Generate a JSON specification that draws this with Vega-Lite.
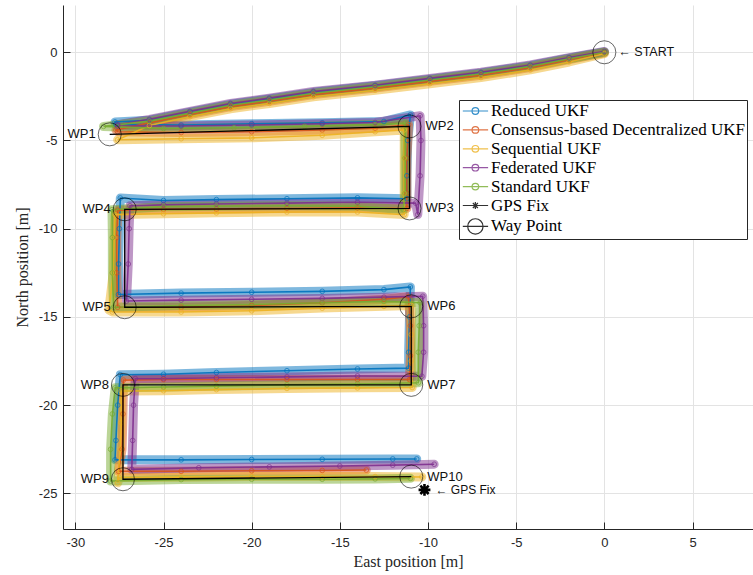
{
  "$schema": "https://vega.github.io/schema/vega-lite/v6.json",
  "width": 690,
  "height": 524,
  "autosize": {"type": "none"},
  "padding": {"left": 63, "top": 5, "right": 0, "bottom": 46},
  "background": "white",
  "config": {
    "view": {"stroke": null},
    "font": "Liberation Sans"
  },
  "datasets": {
    "tracks": [
      {"f": "Reduced UKF", "i": 0, "x": 0, "y": 0.02},
      {"f": "Reduced UKF", "i": 1, "x": -2, "y": -0.33},
      {"f": "Reduced UKF", "i": 2, "x": -4.2, "y": -0.76},
      {"f": "Reduced UKF", "i": 3, "x": -7, "y": -1.17},
      {"f": "Reduced UKF", "i": 4, "x": -9.9, "y": -1.52},
      {"f": "Reduced UKF", "i": 5, "x": -13, "y": -1.9},
      {"f": "Reduced UKF", "i": 6, "x": -16.5, "y": -2.27},
      {"f": "Reduced UKF", "i": 7, "x": -19, "y": -2.65},
      {"f": "Reduced UKF", "i": 8, "x": -21.2, "y": -2.95},
      {"f": "Reduced UKF", "i": 9, "x": -23.5, "y": -3.4},
      {"f": "Reduced UKF", "i": 10, "x": -25.8, "y": -3.85},
      {"f": "Reduced UKF", "i": 11, "x": -27.75, "y": -3.95},
      {"f": "Reduced UKF", "i": 12, "x": -27.7, "y": -4.08},
      {"f": "Reduced UKF", "i": 13, "x": -24, "y": -4.12},
      {"f": "Reduced UKF", "i": 14, "x": -20, "y": -4.05},
      {"f": "Reduced UKF", "i": 15, "x": -16, "y": -4.0},
      {"f": "Reduced UKF", "i": 16, "x": -12.5, "y": -3.92},
      {"f": "Reduced UKF", "i": 17, "x": -11.0, "y": -3.55},
      {"f": "Reduced UKF", "i": 18, "x": -11.15, "y": -5},
      {"f": "Reduced UKF", "i": 19, "x": -11.2, "y": -7},
      {"f": "Reduced UKF", "i": 20, "x": -11.2, "y": -8.3},
      {"f": "Reduced UKF", "i": 21, "x": -14, "y": -8.25},
      {"f": "Reduced UKF", "i": 22, "x": -18, "y": -8.3},
      {"f": "Reduced UKF", "i": 23, "x": -22, "y": -8.35},
      {"f": "Reduced UKF", "i": 24, "x": -25, "y": -8.4},
      {"f": "Reduced UKF", "i": 25, "x": -27.45, "y": -8.26},
      {"f": "Reduced UKF", "i": 26, "x": -27.5, "y": -10},
      {"f": "Reduced UKF", "i": 27, "x": -27.55, "y": -12},
      {"f": "Reduced UKF", "i": 28, "x": -27.55, "y": -13.73},
      {"f": "Reduced UKF", "i": 29, "x": -24, "y": -13.65},
      {"f": "Reduced UKF", "i": 30, "x": -20, "y": -13.6},
      {"f": "Reduced UKF", "i": 31, "x": -16, "y": -13.55},
      {"f": "Reduced UKF", "i": 32, "x": -12.5, "y": -13.45},
      {"f": "Reduced UKF", "i": 33, "x": -11.0, "y": -13.3},
      {"f": "Reduced UKF", "i": 34, "x": -11.05, "y": -15},
      {"f": "Reduced UKF", "i": 35, "x": -11.1, "y": -17},
      {"f": "Reduced UKF", "i": 36, "x": -11.1, "y": -17.9},
      {"f": "Reduced UKF", "i": 37, "x": -14, "y": -17.95},
      {"f": "Reduced UKF", "i": 38, "x": -18, "y": -18.05},
      {"f": "Reduced UKF", "i": 39, "x": -22, "y": -18.15},
      {"f": "Reduced UKF", "i": 40, "x": -25, "y": -18.25},
      {"f": "Reduced UKF", "i": 41, "x": -27.45, "y": -18.28},
      {"f": "Reduced UKF", "i": 42, "x": -27.6, "y": -20},
      {"f": "Reduced UKF", "i": 43, "x": -27.7, "y": -22},
      {"f": "Reduced UKF", "i": 44, "x": -27.75, "y": -23.1},
      {"f": "Reduced UKF", "i": 45, "x": -24, "y": -23.1},
      {"f": "Reduced UKF", "i": 46, "x": -20, "y": -23.08},
      {"f": "Reduced UKF", "i": 47, "x": -16, "y": -23.07},
      {"f": "Reduced UKF", "i": 48, "x": -12, "y": -23.05},
      {"f": "Reduced UKF", "i": 49, "x": -10.64, "y": -23.05},

      {"f": "Consensus-based Decentralized UKF", "i": 0, "x": 0, "y": -0.03},
      {"f": "Consensus-based Decentralized UKF", "i": 1, "x": -2, "y": -0.42},
      {"f": "Consensus-based Decentralized UKF", "i": 2, "x": -4.2, "y": -0.87},
      {"f": "Consensus-based Decentralized UKF", "i": 3, "x": -7, "y": -1.3},
      {"f": "Consensus-based Decentralized UKF", "i": 4, "x": -9.9, "y": -1.65},
      {"f": "Consensus-based Decentralized UKF", "i": 5, "x": -13, "y": -2.03},
      {"f": "Consensus-based Decentralized UKF", "i": 6, "x": -16.5, "y": -2.4},
      {"f": "Consensus-based Decentralized UKF", "i": 7, "x": -19, "y": -2.78},
      {"f": "Consensus-based Decentralized UKF", "i": 8, "x": -21.2, "y": -3.08},
      {"f": "Consensus-based Decentralized UKF", "i": 9, "x": -23.5, "y": -3.53},
      {"f": "Consensus-based Decentralized UKF", "i": 10, "x": -25.8, "y": -4.0},
      {"f": "Consensus-based Decentralized UKF", "i": 11, "x": -27.7, "y": -4.4},
      {"f": "Consensus-based Decentralized UKF", "i": 12, "x": -27.6, "y": -4.5},
      {"f": "Consensus-based Decentralized UKF", "i": 13, "x": -24, "y": -4.55},
      {"f": "Consensus-based Decentralized UKF", "i": 14, "x": -20, "y": -4.5},
      {"f": "Consensus-based Decentralized UKF", "i": 15, "x": -16, "y": -4.4},
      {"f": "Consensus-based Decentralized UKF", "i": 16, "x": -13, "y": -4.3},
      {"f": "Consensus-based Decentralized UKF", "i": 17, "x": -11.1, "y": -4.1},
      {"f": "Consensus-based Decentralized UKF", "i": 18, "x": -11.2, "y": -6},
      {"f": "Consensus-based Decentralized UKF", "i": 19, "x": -11.2, "y": -8},
      {"f": "Consensus-based Decentralized UKF", "i": 20, "x": -11.2, "y": -8.85},
      {"f": "Consensus-based Decentralized UKF", "i": 21, "x": -14, "y": -8.82},
      {"f": "Consensus-based Decentralized UKF", "i": 22, "x": -18, "y": -8.85},
      {"f": "Consensus-based Decentralized UKF", "i": 23, "x": -22, "y": -8.88},
      {"f": "Consensus-based Decentralized UKF", "i": 24, "x": -25, "y": -8.9},
      {"f": "Consensus-based Decentralized UKF", "i": 25, "x": -27.6, "y": -8.95},
      {"f": "Consensus-based Decentralized UKF", "i": 26, "x": -27.65, "y": -10.5},
      {"f": "Consensus-based Decentralized UKF", "i": 27, "x": -27.65, "y": -12.5},
      {"f": "Consensus-based Decentralized UKF", "i": 28, "x": -27.6, "y": -14.45},
      {"f": "Consensus-based Decentralized UKF", "i": 29, "x": -24, "y": -14.45},
      {"f": "Consensus-based Decentralized UKF", "i": 30, "x": -20, "y": -14.35},
      {"f": "Consensus-based Decentralized UKF", "i": 31, "x": -16, "y": -14.2},
      {"f": "Consensus-based Decentralized UKF", "i": 32, "x": -12.5, "y": -14.0},
      {"f": "Consensus-based Decentralized UKF", "i": 33, "x": -11.1, "y": -13.85},
      {"f": "Consensus-based Decentralized UKF", "i": 34, "x": -11.0, "y": -15.5},
      {"f": "Consensus-based Decentralized UKF", "i": 35, "x": -11.0, "y": -17.2},
      {"f": "Consensus-based Decentralized UKF", "i": 36, "x": -11.05, "y": -18.55},
      {"f": "Consensus-based Decentralized UKF", "i": 37, "x": -14, "y": -18.55},
      {"f": "Consensus-based Decentralized UKF", "i": 38, "x": -18, "y": -18.55},
      {"f": "Consensus-based Decentralized UKF", "i": 39, "x": -22, "y": -18.55},
      {"f": "Consensus-based Decentralized UKF", "i": 40, "x": -25, "y": -18.55},
      {"f": "Consensus-based Decentralized UKF", "i": 41, "x": -27.27, "y": -18.58},
      {"f": "Consensus-based Decentralized UKF", "i": 42, "x": -27.3, "y": -20.5},
      {"f": "Consensus-based Decentralized UKF", "i": 43, "x": -27.35, "y": -22.5},
      {"f": "Consensus-based Decentralized UKF", "i": 44, "x": -27.55, "y": -23.75},
      {"f": "Consensus-based Decentralized UKF", "i": 45, "x": -24, "y": -23.75},
      {"f": "Consensus-based Decentralized UKF", "i": 46, "x": -20, "y": -23.72},
      {"f": "Consensus-based Decentralized UKF", "i": 47, "x": -16, "y": -23.7},
      {"f": "Consensus-based Decentralized UKF", "i": 48, "x": -13.5, "y": -23.68},

      {"f": "Sequential UKF", "i": 0, "x": 0, "y": -0.08},
      {"f": "Sequential UKF", "i": 1, "x": -2, "y": -0.55},
      {"f": "Sequential UKF", "i": 2, "x": -4.2, "y": -1.0},
      {"f": "Sequential UKF", "i": 3, "x": -7, "y": -1.43},
      {"f": "Sequential UKF", "i": 4, "x": -9.9, "y": -1.78},
      {"f": "Sequential UKF", "i": 5, "x": -13, "y": -2.15},
      {"f": "Sequential UKF", "i": 6, "x": -16.5, "y": -2.52},
      {"f": "Sequential UKF", "i": 7, "x": -19, "y": -2.9},
      {"f": "Sequential UKF", "i": 8, "x": -21.2, "y": -3.2},
      {"f": "Sequential UKF", "i": 9, "x": -23.5, "y": -3.65},
      {"f": "Sequential UKF", "i": 10, "x": -25.8, "y": -4.15},
      {"f": "Sequential UKF", "i": 11, "x": -27.6, "y": -4.96},
      {"f": "Sequential UKF", "i": 12, "x": -24, "y": -4.9},
      {"f": "Sequential UKF", "i": 13, "x": -20, "y": -4.85},
      {"f": "Sequential UKF", "i": 14, "x": -16, "y": -4.7},
      {"f": "Sequential UKF", "i": 15, "x": -13, "y": -4.5},
      {"f": "Sequential UKF", "i": 16, "x": -11.35, "y": -4.4},
      {"f": "Sequential UKF", "i": 17, "x": -11.35, "y": -6},
      {"f": "Sequential UKF", "i": 18, "x": -11.35, "y": -8},
      {"f": "Sequential UKF", "i": 19, "x": -11.35, "y": -9.2},
      {"f": "Sequential UKF", "i": 20, "x": -14, "y": -9.05},
      {"f": "Sequential UKF", "i": 21, "x": -18, "y": -9.05},
      {"f": "Sequential UKF", "i": 22, "x": -22, "y": -9.1},
      {"f": "Sequential UKF", "i": 23, "x": -25, "y": -9.15},
      {"f": "Sequential UKF", "i": 24, "x": -27.75, "y": -9.2},
      {"f": "Sequential UKF", "i": 25, "x": -27.8, "y": -10.5},
      {"f": "Sequential UKF", "i": 26, "x": -27.85, "y": -12.5},
      {"f": "Sequential UKF", "i": 27, "x": -28.1, "y": -14.6},
      {"f": "Sequential UKF", "i": 28, "x": -27.9, "y": -14.72},
      {"f": "Sequential UKF", "i": 29, "x": -24, "y": -14.72},
      {"f": "Sequential UKF", "i": 30, "x": -20, "y": -14.65},
      {"f": "Sequential UKF", "i": 31, "x": -16, "y": -14.5},
      {"f": "Sequential UKF", "i": 32, "x": -12.5, "y": -14.4},
      {"f": "Sequential UKF", "i": 33, "x": -10.95, "y": -14.35},
      {"f": "Sequential UKF", "i": 34, "x": -10.95, "y": -16},
      {"f": "Sequential UKF", "i": 35, "x": -10.95, "y": -17.5},
      {"f": "Sequential UKF", "i": 36, "x": -10.9, "y": -19.0},
      {"f": "Sequential UKF", "i": 37, "x": -14, "y": -19.02},
      {"f": "Sequential UKF", "i": 38, "x": -18, "y": -19.05},
      {"f": "Sequential UKF", "i": 39, "x": -22, "y": -19.12},
      {"f": "Sequential UKF", "i": 40, "x": -25, "y": -19.18},
      {"f": "Sequential UKF", "i": 41, "x": -27.4, "y": -19.2},
      {"f": "Sequential UKF", "i": 42, "x": -27.4, "y": -21},
      {"f": "Sequential UKF", "i": 43, "x": -27.45, "y": -22.5},
      {"f": "Sequential UKF", "i": 44, "x": -27.6, "y": -24.4},
      {"f": "Sequential UKF", "i": 45, "x": -27.5, "y": -24.1},
      {"f": "Sequential UKF", "i": 46, "x": -24, "y": -24.08},
      {"f": "Sequential UKF", "i": 47, "x": -20, "y": -24.05},
      {"f": "Sequential UKF", "i": 48, "x": -16, "y": -24.05},
      {"f": "Sequential UKF", "i": 49, "x": -13, "y": -24.05},
      {"f": "Sequential UKF", "i": 50, "x": -10.35, "y": -24.07},

      {"f": "Federated UKF", "i": 0, "x": 0, "y": 0.05},
      {"f": "Federated UKF", "i": 1, "x": -2, "y": -0.3},
      {"f": "Federated UKF", "i": 2, "x": -4.2, "y": -0.72},
      {"f": "Federated UKF", "i": 3, "x": -7, "y": -1.13},
      {"f": "Federated UKF", "i": 4, "x": -9.9, "y": -1.48},
      {"f": "Federated UKF", "i": 5, "x": -13, "y": -1.87},
      {"f": "Federated UKF", "i": 6, "x": -16.5, "y": -2.22},
      {"f": "Federated UKF", "i": 7, "x": -19, "y": -2.6},
      {"f": "Federated UKF", "i": 8, "x": -21.2, "y": -2.9},
      {"f": "Federated UKF", "i": 9, "x": -23.5, "y": -3.35},
      {"f": "Federated UKF", "i": 10, "x": -25.8, "y": -3.8},
      {"f": "Federated UKF", "i": 11, "x": -27.6, "y": -4.1},
      {"f": "Federated UKF", "i": 12, "x": -27.6, "y": -4.18},
      {"f": "Federated UKF", "i": 13, "x": -24, "y": -4.18},
      {"f": "Federated UKF", "i": 14, "x": -20, "y": -4.12},
      {"f": "Federated UKF", "i": 15, "x": -16, "y": -4.05},
      {"f": "Federated UKF", "i": 16, "x": -13, "y": -3.98},
      {"f": "Federated UKF", "i": 17, "x": -10.45, "y": -3.6},
      {"f": "Federated UKF", "i": 18, "x": -10.4, "y": -5},
      {"f": "Federated UKF", "i": 19, "x": -10.45, "y": -7},
      {"f": "Federated UKF", "i": 20, "x": -10.58, "y": -9.2},
      {"f": "Federated UKF", "i": 21, "x": -10.7, "y": -8.55},
      {"f": "Federated UKF", "i": 22, "x": -14, "y": -8.5},
      {"f": "Federated UKF", "i": 23, "x": -18, "y": -8.55},
      {"f": "Federated UKF", "i": 24, "x": -22, "y": -8.6},
      {"f": "Federated UKF", "i": 25, "x": -25, "y": -8.65},
      {"f": "Federated UKF", "i": 26, "x": -26.9, "y": -8.7},
      {"f": "Federated UKF", "i": 27, "x": -26.95, "y": -10},
      {"f": "Federated UKF", "i": 28, "x": -27.0, "y": -12},
      {"f": "Federated UKF", "i": 29, "x": -27.1, "y": -14.1},
      {"f": "Federated UKF", "i": 30, "x": -24, "y": -14.05},
      {"f": "Federated UKF", "i": 31, "x": -20, "y": -14.0},
      {"f": "Federated UKF", "i": 32, "x": -16, "y": -13.95},
      {"f": "Federated UKF", "i": 33, "x": -12.5, "y": -13.88},
      {"f": "Federated UKF", "i": 34, "x": -10.3, "y": -13.83},
      {"f": "Federated UKF", "i": 35, "x": -10.25, "y": -15.5},
      {"f": "Federated UKF", "i": 36, "x": -10.25, "y": -17},
      {"f": "Federated UKF", "i": 37, "x": -10.35, "y": -18.36},
      {"f": "Federated UKF", "i": 38, "x": -14, "y": -18.35},
      {"f": "Federated UKF", "i": 39, "x": -18, "y": -18.4},
      {"f": "Federated UKF", "i": 40, "x": -22, "y": -18.45},
      {"f": "Federated UKF", "i": 41, "x": -25, "y": -18.5},
      {"f": "Federated UKF", "i": 42, "x": -26.6, "y": -18.5},
      {"f": "Federated UKF", "i": 43, "x": -26.7, "y": -20},
      {"f": "Federated UKF", "i": 44, "x": -26.75, "y": -22},
      {"f": "Federated UKF", "i": 45, "x": -26.8, "y": -23.64},
      {"f": "Federated UKF", "i": 46, "x": -23, "y": -23.55},
      {"f": "Federated UKF", "i": 47, "x": -19, "y": -23.5},
      {"f": "Federated UKF", "i": 48, "x": -15, "y": -23.45},
      {"f": "Federated UKF", "i": 49, "x": -12, "y": -23.4},
      {"f": "Federated UKF", "i": 50, "x": -9.65, "y": -23.35},

      {"f": "Standard UKF", "i": 0, "x": 0, "y": 0},
      {"f": "Standard UKF", "i": 1, "x": -2, "y": -0.37},
      {"f": "Standard UKF", "i": 2, "x": -4.2, "y": -0.8},
      {"f": "Standard UKF", "i": 3, "x": -7, "y": -1.22},
      {"f": "Standard UKF", "i": 4, "x": -9.9, "y": -1.57},
      {"f": "Standard UKF", "i": 5, "x": -13, "y": -1.95},
      {"f": "Standard UKF", "i": 6, "x": -16.5, "y": -2.32},
      {"f": "Standard UKF", "i": 7, "x": -19, "y": -2.7},
      {"f": "Standard UKF", "i": 8, "x": -21.2, "y": -3.0},
      {"f": "Standard UKF", "i": 9, "x": -23.5, "y": -3.45},
      {"f": "Standard UKF", "i": 10, "x": -25.8, "y": -3.9},
      {"f": "Standard UKF", "i": 11, "x": -28.4, "y": -4.2},
      {"f": "Standard UKF", "i": 12, "x": -25, "y": -4.32},
      {"f": "Standard UKF", "i": 13, "x": -21, "y": -4.28},
      {"f": "Standard UKF", "i": 14, "x": -17, "y": -4.2},
      {"f": "Standard UKF", "i": 15, "x": -13, "y": -4.1},
      {"f": "Standard UKF", "i": 16, "x": -11.3, "y": -4.02},
      {"f": "Standard UKF", "i": 17, "x": -11.3, "y": -6},
      {"f": "Standard UKF", "i": 18, "x": -11.3, "y": -8},
      {"f": "Standard UKF", "i": 19, "x": -11.4, "y": -8.92},
      {"f": "Standard UKF", "i": 20, "x": -14, "y": -8.72},
      {"f": "Standard UKF", "i": 21, "x": -18, "y": -8.7},
      {"f": "Standard UKF", "i": 22, "x": -22, "y": -8.72},
      {"f": "Standard UKF", "i": 23, "x": -25, "y": -8.75},
      {"f": "Standard UKF", "i": 24, "x": -27.92, "y": -8.92},
      {"f": "Standard UKF", "i": 25, "x": -27.9, "y": -10.5},
      {"f": "Standard UKF", "i": 26, "x": -27.9, "y": -12.5},
      {"f": "Standard UKF", "i": 27, "x": -27.83, "y": -14.45},
      {"f": "Standard UKF", "i": 28, "x": -24, "y": -14.35},
      {"f": "Standard UKF", "i": 29, "x": -20, "y": -14.3},
      {"f": "Standard UKF", "i": 30, "x": -16, "y": -14.2},
      {"f": "Standard UKF", "i": 31, "x": -12.5, "y": -14.12},
      {"f": "Standard UKF", "i": 32, "x": -10.45, "y": -14.2},
      {"f": "Standard UKF", "i": 33, "x": -10.5, "y": -15.5},
      {"f": "Standard UKF", "i": 34, "x": -10.55, "y": -17},
      {"f": "Standard UKF", "i": 35, "x": -10.55, "y": -18.73},
      {"f": "Standard UKF", "i": 36, "x": -14, "y": -18.8},
      {"f": "Standard UKF", "i": 37, "x": -18, "y": -18.85},
      {"f": "Standard UKF", "i": 38, "x": -22, "y": -18.92},
      {"f": "Standard UKF", "i": 39, "x": -25, "y": -18.97},
      {"f": "Standard UKF", "i": 40, "x": -27.74, "y": -19.02},
      {"f": "Standard UKF", "i": 41, "x": -27.9, "y": -20.5},
      {"f": "Standard UKF", "i": 42, "x": -28.0, "y": -22.5},
      {"f": "Standard UKF", "i": 43, "x": -28.0, "y": -24.3},
      {"f": "Standard UKF", "i": 44, "x": -24, "y": -24.22},
      {"f": "Standard UKF", "i": 45, "x": -20, "y": -24.2},
      {"f": "Standard UKF", "i": 46, "x": -16, "y": -24.2},
      {"f": "Standard UKF", "i": 47, "x": -13, "y": -24.18},
      {"f": "Standard UKF", "i": 48, "x": -11.0, "y": -24.15}
    ],
    "waypoints": [
      {"f": "Way Point", "i": 0, "x": 0, "y": 0, "lab": "← START", "s": "S"},
      {"f": "Way Point", "i": 1, "x": -28.05, "y": -4.65, "lab": "WP1", "s": "L"},
      {"f": "Way Point", "i": 2, "x": -11.05, "y": -4.2, "lab": "WP2", "s": "R"},
      {"f": "Way Point", "i": 3, "x": -11.05, "y": -8.85, "lab": "WP3", "s": "R"},
      {"f": "Way Point", "i": 4, "x": -27.2, "y": -8.9, "lab": "WP4", "s": "L"},
      {"f": "Way Point", "i": 5, "x": -27.2, "y": -14.45, "lab": "WP5", "s": "L"},
      {"f": "Way Point", "i": 6, "x": -10.95, "y": -14.4, "lab": "WP6", "s": "R"},
      {"f": "Way Point", "i": 7, "x": -10.95, "y": -18.85, "lab": "WP7", "s": "R"},
      {"f": "Way Point", "i": 8, "x": -27.3, "y": -18.85, "lab": "WP8", "s": "L"},
      {"f": "Way Point", "i": 9, "x": -27.3, "y": -24.2, "lab": "WP9", "s": "L"},
      {"f": "Way Point", "i": 10, "x": -10.95, "y": -24.05, "lab": "WP10", "s": "R"}
    ],
    "gps": [
      {"f": "GPS Fix", "x": -10.2, "y": -24.8, "lab": "← GPS Fix"}
    ]
  },
  "encoding": {
    "x": {
      "field": "x", "type": "quantitative",
      "scale": {"domain": [-30.7, 8.43], "nice": false, "zero": false},
      "axis": {
        "title": "East position [m]",
        "values": [-30, -25, -20, -15, -10, -5, 0, 5],
        "labelExpr": "toString(datum.value)",
        "grid": true, "gridColor": "#e3e3e3", "gridWidth": 1,
        "tickSize": -7, "tickColor": "#262626", "tickWidth": 1,
        "domainColor": "#262626", "domainWidth": 1,
        "labelFont": "Liberation Sans", "labelFontSize": 13, "labelColor": "#262626",
        "labelPadding": 14, "labelFlush": false, "labelOverlap": false,
        "titleFont": "Liberation Serif", "titleFontSize": 16, "titleFontWeight": "normal",
        "titleColor": "#262626", "titlePadding": 4
      }
    },
    "y": {
      "field": "y", "type": "quantitative",
      "scale": {"domain": [-27.02, 2.68], "nice": false, "zero": false},
      "axis": {
        "title": "North position [m]",
        "values": [-25, -20, -15, -10, -5, 0],
        "labelExpr": "toString(datum.value)",
        "grid": true, "gridColor": "#e3e3e3", "gridWidth": 1,
        "tickSize": -7, "tickColor": "#262626", "tickWidth": 1,
        "domainColor": "#262626", "domainWidth": 1,
        "labelFont": "Liberation Sans", "labelFontSize": 13, "labelColor": "#262626",
        "labelPadding": 13, "labelFlush": false, "labelOverlap": false,
        "titleFont": "Liberation Serif", "titleFontSize": 16, "titleFontWeight": "normal",
        "titleColor": "#262626", "titlePadding": 8
      }
    }
  },
  "layer": [
    {
      "data": {"name": "tracks"},
      "mark": {"type": "line", "strokeWidth": 9, "strokeOpacity": 0.5, "strokeJoin": "round", "strokeCap": "round"},
      "encoding": {
        "order": {"field": "i", "type": "quantitative"},
        "color": {
          "field": "f", "type": "nominal",
          "scale": {
            "domain": ["Reduced UKF", "Consensus-based Decentralized UKF", "Sequential UKF", "Federated UKF", "Standard UKF", "GPS Fix", "Way Point"],
            "range": ["#0072BD", "#D95319", "#EDB120", "#7E2F8E", "#77AC30", "#000000", "#000000"]
          },
          "legend": {
            "orient": "none", "legendX": 396, "legendY": 95,
            "title": null,
            "padding": 2,
            "strokeColor": "#262626",
            "fillColor": "white",
            "labelFont": "Liberation Serif", "labelFontSize": 17, "labelColor": "black",
            "labelLimit": 0,
            "symbolSize": 250,
            "symbolStrokeWidth": 1.2,
            "symbolOpacity": 0.8,
            "labelOffset": 12,
            "rowPadding": 1.9,
            "encode": {
              "symbols": {
                "update": {
                  "fill": {"value": "transparent"},
                  "shape": {"signal": "datum.value === 'GPS Fix' ? 'M-0.91,0L2.29,0M0.23,0L1.13,0M0.68,-0.45L0.68,0.45M0.36,-0.32L1,0.32M0.36,0.32L1,-0.32' : datum.value === 'Way Point' ? 'M-0.91,0L2.29,0M1.65,0A0.97,0.97,0,1,1,-0.29,0A0.97,0.97,0,1,1,1.65,0' : 'M-0.91,0L2.29,0M1.1,0A0.42,0.42,0,1,1,0.26,0A0.42,0.42,0,1,1,1.1,0'"}
                }
              }
            }
          }
        },
        "detail": {"field": "f"}
      }
    },
    {
      "data": {"name": "tracks"},
      "mark": {"type": "line", "strokeWidth": 1.6, "strokeOpacity": 0.9},
      "encoding": {
        "order": {"field": "i", "type": "quantitative"},
        "color": {"field": "f", "type": "nominal"}
      }
    },
    {
      "data": {"name": "tracks"},
      "mark": {"type": "point", "shape": "circle", "filled": false, "size": 22, "strokeWidth": 1, "opacity": 0.7},
      "encoding": {
        "color": {"field": "f", "type": "nominal"}
      }
    },
    {
      "data": {"name": "waypoints"},
      "transform": [{"filter": "datum.i >= 1"}],
      "mark": {"type": "line", "strokeWidth": 1.3},
      "encoding": {
        "order": {"field": "i", "type": "quantitative"},
        "color": {"field": "f", "type": "nominal"}
      }
    },
    {
      "data": {"name": "waypoints"},
      "mark": {"type": "point", "shape": "circle", "filled": false, "size": 531, "strokeWidth": 0.7, "opacity": 0.85},
      "encoding": {
        "color": {"field": "f", "type": "nominal"}
      }
    },
    {
      "data": {"name": "gps"},
      "mark": {"type": "point", "shape": "M-1,0L1,0M0,-1L0,1M-0.7,-0.7L0.7,0.7M-0.7,0.7L0.7,-0.7", "filled": false, "size": 140, "strokeWidth": 2.6, "opacity": 1},
      "encoding": {
        "color": {"field": "f", "type": "nominal"}
      }
    },
    {
      "data": {"name": "waypoints"},
      "transform": [{"filter": "datum.s === 'L'"}],
      "mark": {"type": "text", "align": "right", "baseline": "middle", "dx": -14, "font": "Liberation Sans", "fontSize": 13, "color": "#111111"},
      "encoding": {"text": {"field": "lab"}}
    },
    {
      "data": {"name": "waypoints"},
      "transform": [{"filter": "datum.s === 'R'"}],
      "mark": {"type": "text", "align": "left", "baseline": "middle", "dx": 16, "font": "Liberation Sans", "fontSize": 13, "color": "#111111"},
      "encoding": {"text": {"field": "lab"}}
    },
    {
      "data": {"name": "waypoints"},
      "transform": [{"filter": "datum.s === 'S'"}],
      "mark": {"type": "text", "align": "left", "baseline": "middle", "dx": 14, "font": "Liberation Sans", "fontSize": 12.5, "color": "#111111"},
      "encoding": {"text": {"field": "lab"}}
    },
    {
      "data": {"name": "gps"},
      "mark": {"type": "text", "align": "left", "baseline": "middle", "dx": 11, "font": "Liberation Sans", "fontSize": 12, "color": "#111111"},
      "encoding": {"text": {"field": "lab"}}
    }
  ]
}
